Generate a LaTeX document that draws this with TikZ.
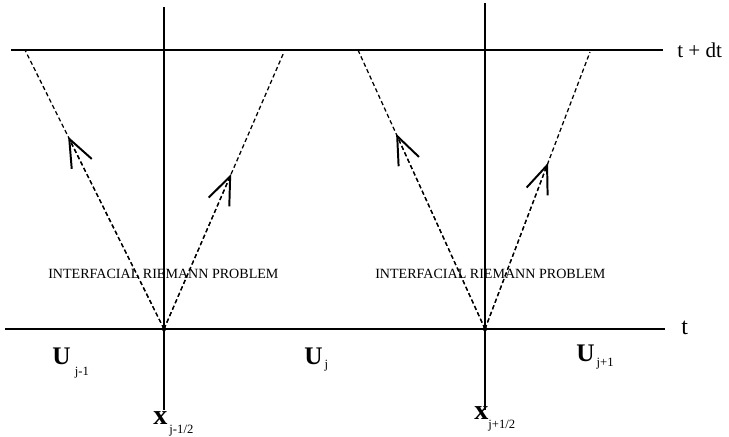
\documentclass[tikz,border=0pt]{standalone}
\usepackage{fontspec}
\setmainfont{Liberation Serif}
\usetikzlibrary{arrows.meta,calc}
\newcommand{\lowsub}[3]{#1\raisebox{#3}{\fontsize{9}{10}\selectfont\mdseries #2}}
\begin{document}
\begin{tikzpicture}[x=0.025cm,y=-0.025cm,
  axis/.style={line width=1.4pt},
  wave/.style={densely dashed,line width=0.9pt},
  barb/.style={-{Straight Barb[length=7mm,width=5.6mm,line width=1.4pt]}},
  lab/.style={inner sep=0pt,anchor=base west}]
\useasboundingbox (0,0) rectangle (729,436);
% time levels
\coordinate (topw) at (11,50);
\coordinate (tope) at (663,50);
\coordinate (botw) at (5,329);
\coordinate (bote) at (665,329);
\draw[axis] (topw) -- (tope);
\draw[axis] (botw) -- (bote);
\node[lab,font=\fontsize{15}{17}\selectfont] (tdt) at (677,57) {t + dt};
\node[lab,font=\fontsize{17}{19}\selectfont] (t) at (681,334) {t};
% cell interfaces
\coordinate (ia) at (164,7);
\coordinate (ib) at (164,410);
\coordinate (ic) at (485,3);
\coordinate (id) at (485,410);
\draw[axis] (ia) -- (ib);
\draw[axis] (ic) -- (id);
% Riemann fans
\coordinate (o1) at (164,329);
\coordinate (o2) at (485,329);
\coordinate (l1) at (25,50);
\coordinate (r1) at (284,52);
\coordinate (l2) at (358,50);
\coordinate (r2) at (590,52);
\fill (o1) circle (2.2);
\fill (o2) circle (2.2);
\draw[wave,barb] (o1) -- ($(o1)!0.69!(l1)$);
\draw[wave] (o1) -- (l1);
\draw[wave,barb] (o1) -- ($(o1)!0.56!(r1)$);
\draw[wave] (o1) -- (r1);
\draw[wave,barb] (o2) -- ($(o2)!0.70!(l2)$);
\draw[wave] (o2) -- (l2);
\draw[wave,barb] (o2) -- ($(o2)!0.60!(r2)$);
\draw[wave] (o2) -- (r2);
\node[lab,font=\fontsize{10}{12}\selectfont] (rp1) at (48,278) {INTERFACIAL RIEMANN PROBLEM};
\node[lab,font=\fontsize{10}{12}\selectfont] (rp2) at (375,278) {INTERFACIAL RIEMANN PROBLEM};
% states and interface labels
\node[lab,font=\fontsize{18}{20}\selectfont\bfseries] (uw) at (52,364) {\lowsub{U}{\,\,j-1}{-8pt}};
\node[lab,font=\fontsize{18}{20}\selectfont\bfseries] (uc) at (304,364) {\lowsub{U}{\,j}{-3pt}};
\node[lab,font=\fontsize{18}{20}\selectfont\bfseries] (ue) at (576,361) {\lowsub{U}{\,j+1}{-4pt}};
\node[lab,font=\fontsize{20}{22}\selectfont\bfseries] (xw) at (153,424) {\lowsub{x}{\,j-1/2}{-7pt}};
\node[lab,font=\fontsize{20}{22}\selectfont\bfseries] (xe) at (474,419) {\lowsub{x}{j+1/2}{-7pt}};
\end{tikzpicture}
\end{document}
